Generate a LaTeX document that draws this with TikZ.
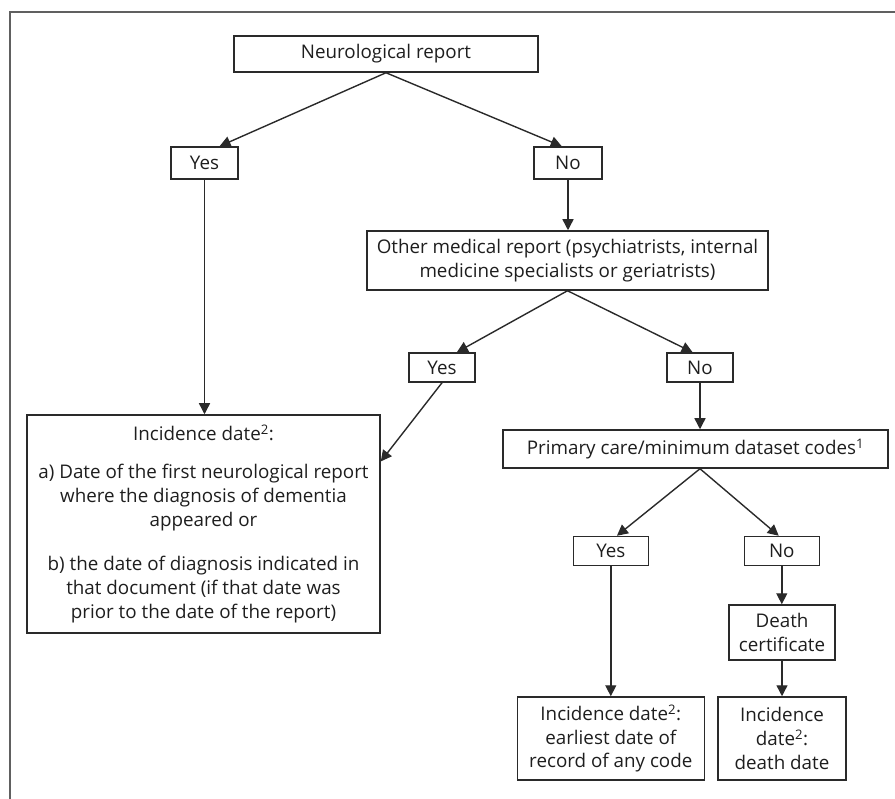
\documentclass[tikz,border=0pt]{standalone}
\usepackage{fontspec}
\setmainfont{Open Sans}
\usetikzlibrary{arrows.meta,calc}
\definecolor{boxline}{HTML}{2A2A2A}
\definecolor{frameline}{HTML}{606060}
\definecolor{txt}{HTML}{1E1E1E}
\begin{document}
\begin{tikzpicture}[x=1pt,y=-1pt,
  box/.style={draw=boxline,line width=1.5pt,inner sep=0pt,align=center,text=txt,
    font=\fontsize{18.8}{23.8}\selectfont},
  conn/.style={draw=boxline,line width=1.4pt,-{Triangle[length=11pt,width=11pt]}}]
\useasboundingbox (0,0) rectangle (895,799);
\draw[frameline,line width=1.6pt] (10,805) -- (10,12) -- (900,12);
\node[box,minimum width=304pt,minimum height=36pt] (neuro) at (386,54) {Neurological report};
\node[box,minimum width=67pt,minimum height=32pt] (yes1) at (204.5,163) {Yes};
\node[box,minimum width=68pt,minimum height=32pt] (no1) at (568,163) {No};
\node[box,minimum width=401pt,minimum height=59pt] (other) at (567.5,260.5) {Other medical report (psychiatrists, internal\\medicine specialists or geriatrists)};
\node[box,minimum width=66pt,minimum height=29pt] (yes2) at (442,367.5) {Yes};
\node[box,minimum width=66pt,minimum height=29pt] (no2) at (700,367.5) {No};
\node[box,minimum width=353pt,minimum height=218pt] (big) at (203.5,524) {Incidence date\textsuperscript{2}:\\[14pt]a) Date of the first neurological report\\where the diagnosis of dementia\\appeared or\\[21pt]b) the date of diagnosis indicated in\\that document (if that date was\\prior to the date of the report)};
\node[box,minimum width=385pt,minimum height=38pt] (primary) at (695.5,449) {Primary care/minimum dataset codes\textsuperscript{1}};
\node[box,minimum width=75pt,minimum height=29pt] (yes3) at (610.8,551) {Yes};
\node[box,minimum width=75pt,minimum height=29pt] (no3) at (781.8,551) {No};
\node[box,minimum width=106pt,minimum height=55pt] (death) at (782,632.5) {Death\\certificate};
\node[box,minimum width=187pt,minimum height=83pt] (inc2) at (610.8,738.5) {Incidence date\textsuperscript{2}:\\earliest date of\\record of any code};
\node[box,minimum width=128pt,minimum height=83pt] (inc3) at (782,738.5) {Incidence\\date\textsuperscript{2}:\\death date};
% connectors
\draw[conn] (neuro.south) -- ($(yes1.north west)!0.72!(yes1.north east)$);
\draw[conn] (neuro.south) -- ($(no1.north west)!0.41!(no1.north east)$);
\draw[conn] (yes1.south) -- (yes1.south |- big.north);
\draw[conn] (no1.south) -- (no1.south |- other.north);
\draw[conn] (other.south) -- ($(yes2.north west)!0.72!(yes2.north east)$);
\draw[conn] (other.south) -- ($(no2.north west)!0.39!(no2.north east)$);
\draw[conn] (yes2.south) -- ($(big.north east)!0.215!(big.south east)$);
\draw[conn] (no2.south) -- (no2.south |- primary.north);
\coordinate (psplit) at (no2.south |- primary.south);
\draw[conn] (psplit) -- ($(yes3.north west)!0.58!(yes3.north east)$);
\draw[conn] (psplit) -- ($(no3.north west)!0.46!(no3.north east)$);
\draw[conn] (yes3.south) -- (yes3.south |- inc2.north);
\draw[conn] (no3.south) -- (no3.south |- death.north);
\draw[conn] (death.south) -- (death.south |- inc3.north);
\end{tikzpicture}
\end{document}
